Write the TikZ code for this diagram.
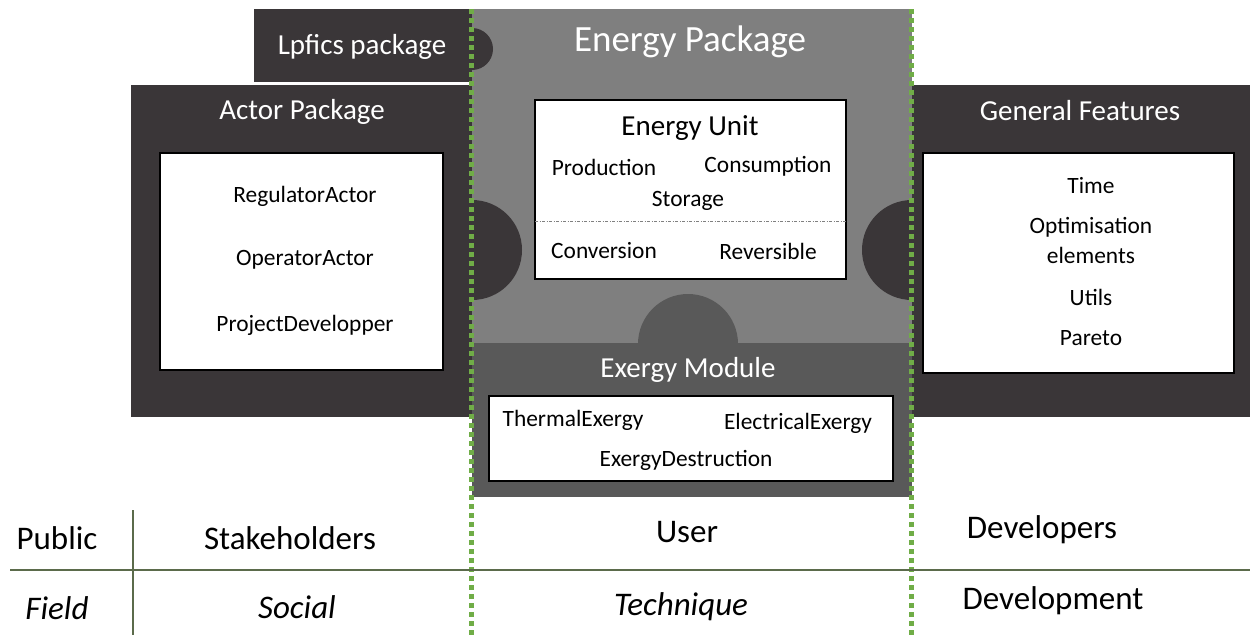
\documentclass[tikz,border=0pt]{standalone}
\usepackage{fontspec}
\setmainfont{Carlito}
\definecolor{darkbox}{HTML}{3A3638}
\definecolor{midgray}{HTML}{7F7F7F}
\definecolor{exgray}{HTML}{595959}
\definecolor{dotgreen}{HTML}{70AD47}
\definecolor{tableline}{HTML}{5B6B4B}
\tikzset{
  titletext/.style={text=white, inner sep=0pt, font=\fontsize{29}{34}\selectfont},
  bigtitle/.style={text=white, inner sep=0pt, font=\fontsize{37}{42}\selectfont},
  itemtext/.style={text=black, inner sep=0pt, font=\fontsize{23.4}{27}\selectfont},
  unittitle/.style={text=black, inner sep=0pt, font=\fontsize{29}{34}\selectfont},
  tabletext/.style={text=black, inner sep=0pt, font=\fontsize{33}{38}\selectfont},
  tableital/.style={tabletext, font=\fontsize{33}{38}\selectfont\itshape},
  whitebox/.style={fill=white, draw=black, line width=2pt},
  greendots/.style={draw=dotgreen, line width=5pt, dash pattern=on 5pt off 4pt},
  tablerule/.style={draw=tableline, line width=1.3pt},
}
\begin{document}
\begin{tikzpicture}[x=1pt, y=-1pt]
\useasboundingbox (0,0) rectangle (1250,635);
% Energy package background
\fill[midgray] (472,9) rectangle (912,345);
\fill[exgray] (472,343) rectangle (912,497);
\fill[exgray] (638,344) arc[start angle=180, end angle=360, radius=50] -- cycle;
% Lpfics package
\fill[darkbox] (254,9) rectangle (472,82);
\fill[darkbox] (472,70) arc[start angle=90, end angle=-90, radius=21] -- cycle;
% Actor package
\fill[darkbox] (131,85) rectangle (472,417);
\fill[darkbox] (472,300) arc[start angle=90, end angle=-90, radius=50] -- cycle;
% General features
\fill[darkbox] (912,85) rectangle (1250,417);
\fill[darkbox] (912,300) arc[start angle=90, end angle=270, radius=50] -- cycle;
% white boxes
\draw[whitebox] (160,153) rectangle (443,370);
\draw[whitebox] (535,100) rectangle (846,279);
\draw[whitebox] (923,153) rectangle (1234,373);
\draw[whitebox] (489,396) rectangle (893,481);
\draw[gray, line width=0.8pt, dash pattern=on 3pt off 1.5pt on 1pt off 1.5pt] (535,221) -- (848,221);
% green dotted separators
\coordinate (gLt) at (471.5,9);
\coordinate (gLb) at (471.5,635);
\coordinate (gRt) at (911.5,9);
\coordinate (gRb) at (911.5,635);
\draw[greendots] (gLt) -- (gLb);
\draw[greendots] (gRt) -- (gRb);
% table lines
\coordinate (hl) at (10,570);
\coordinate (hr) at (1250,570);
\coordinate (vt) at (133,510);
\coordinate (vb) at (133,635);
\draw[tablerule] (hl) -- (hr);
\draw[tablerule] (vt) -- (vb);
% titles
\node[titletext] (lpfics) at (362,47) {Lpfics package};
\node[bigtitle] (energy) at (690,42) {Energy Package};
\node[titletext] (actor) at (302,112) {Actor Package};
\node[titletext] (general) at (1080,111) {General Features};
\node[titletext] (exergy) at (688,370) {Exergy Module};
% energy unit
\node[unittitle] (eunit) at (690,128) {Energy Unit};
\node[itemtext] (prod) at (604,167) {Production};
\node[itemtext] (cons) at (768,166) {Consumption};
\node[itemtext] (stor) at (688,201) {Storage};
\node[itemtext] (conv) at (604,251) {Conversion};
\node[itemtext] (rev) at (768,251) {Reversible};
% exergy
\node[itemtext] (thermal) at (573,420) {ThermalExergy};
\node[itemtext] (elec) at (798,423) {ElectricalExergy};
\node[itemtext] (destr) at (686,460) {ExergyDestruction};
% actors
\node[itemtext] (reg) at (305,196) {RegulatorActor};
\node[itemtext] (oper) at (305,260) {OperatorActor};
\node[itemtext] (proj) at (305,325) {ProjectDevelopper};
% general features
\node[itemtext] (time) at (1091,186) {Time};
\node[itemtext] (optim) at (1091,227) {Optimisation};
\node[itemtext] (elem) at (1091,255) {elements};
\node[itemtext] (utils) at (1091,297) {Utils};
\node[itemtext] (pareto) at (1091,338) {Pareto};
% table
\node[tabletext] (public) at (57,538) {Public};
\node[tabletext] (stake) at (290,538) {Stakeholders};
\node[tabletext] (user) at (687,532) {User};
\node[tabletext] (devs) at (1042,530) {Developers};
\node[tableital] (field) at (57,608) {Field};
\node[tableital] (social) at (297,607) {Social};
\node[tableital] (tech) at (681,607) {Technique};
\node[tabletext] (devel) at (1053,601) {Development};
\end{tikzpicture}
\end{document}
